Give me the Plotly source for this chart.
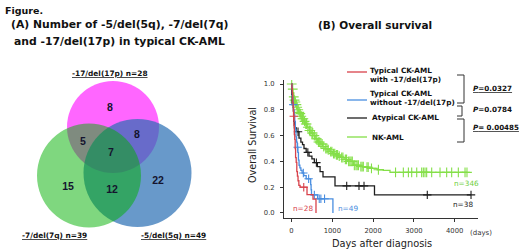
import numpy as np
import plotly.graph_objects as go

# ---------------- data ----------------
# Venn (A)
venn_set_names = ["-17/del(17p)", "-7/del(7q)", "-5/del(5q)"]
venn_set_n = [28, 39, 49]
venn_region_keys = ["p17_only", "p17_q7", "p17_q5", "all3", "q7_only", "q7_q5", "q5_only"]
venn_region_counts = [8, 5, 8, 7, 15, 12, 22]

# Kaplan-Meier (B): event times (days) and survival after each step
red_t = [0, 10, 20, 30, 40, 50, 60, 70, 80, 90, 100, 115, 130, 145, 160, 180, 210, 380, 527, 600]
red_s = [1.0, 0.964, 0.929, 0.857, 0.821, 0.75, 0.679, 0.607, 0.571, 0.5, 0.429, 0.393, 0.321, 0.286, 0.25, 0.214, 0.2, 0.143, 0.107, 0.0]
red_cens = [55, 300]

blue_t = [0, 10, 20, 35, 50, 65, 80, 95, 110, 125, 140, 155, 170, 185, 205, 230, 260, 300, 360, 470, 480, 490, 640, 1015]
blue_s = [1.0, 0.96, 0.90, 0.84, 0.80, 0.76, 0.71, 0.65, 0.59, 0.55, 0.51, 0.47, 0.41, 0.37, 0.35, 0.33, 0.31, 0.29, 0.265, 0.22, 0.18, 0.14, 0.11, 0.0]
blue_cens = [45, 150, 290, 420, 560, 680, 720, 810]

black_t = [0, 5, 15, 45, 55, 70, 120, 184, 230, 270, 306, 360, 429, 500, 560, 633, 700, 772, 1066, 2034, 4400]
black_s = [1.0, 0.92, 0.84, 0.79, 0.71, 0.66, 0.63, 0.58, 0.55, 0.53, 0.50, 0.47, 0.44, 0.42, 0.39, 0.36, 0.32, 0.28, 0.21, 0.14, 0.14]
black_cens = [160, 400, 610, 1353, 1654, 1777, 3328, 4400]

green_t = [0, 10, 20, 35, 50, 61, 80, 100, 125, 150, 175, 200, 225, 260, 300, 340, 380, 429, 480, 530, 580,
           633, 700, 760, 820, 878, 940, 1010, 1080, 1150, 1205, 1290, 1380, 1515, 1650, 1800, 1924, 2100,
           2250, 2414, 4301]
green_s = [1.0, 0.98, 0.96, 0.93, 0.90, 0.875, 0.86, 0.84, 0.82, 0.80, 0.78, 0.77, 0.75, 0.73, 0.71, 0.69,
           0.665, 0.64, 0.62, 0.60, 0.575, 0.55, 0.535, 0.515, 0.50, 0.49, 0.475, 0.46, 0.45, 0.44, 0.43,
           0.415, 0.40, 0.37, 0.36, 0.355, 0.346, 0.335, 0.33, 0.315, 0.315]
green_cens = [5, 30, 55, 75, 95, 120, 140, 165, 190, 215, 240, 270, 290, 320, 350, 370, 400, 440, 460, 500,
              520, 560, 600, 620, 660, 690, 720, 750, 790, 840, 870, 900, 960, 990, 1030, 1060, 1100, 1130,
              1170, 1230, 1260, 1320, 1350, 1400, 1430, 1460, 1490, 1540, 1580, 1610, 1640, 1700, 1730, 1760,
              1850, 1880, 1960, 2130, 2550, 2741, 2865, 2946, 3069, 3190, 3231, 3272, 3313, 3436, 3640, 3803,
              3926, 4089, 4253, 4301]

group_names = ["Typical CK-AML with -17/del(17p)", "Typical CK-AML without -17/del(17p)",
               "Atypical CK-AML", "NK-AML"]
group_n = [28, 49, 38, 346]
p_values = ["0.0327", "0.0784", " 0.00485"]

x_ticks = [0, 1000, 2000, 3000, 4000]
y_ticks = [0.0, 0.2, 0.4, 0.6, 0.8, 1.0]

# ---------------- style / layout ----------------
W, H = 520, 250
FONT = "DejaVu Sans, Verdana, sans-serif"
ARIAL = "Liberation Sans, Arial, sans-serif"
C_RED, C_BLUE, C_BLACK, C_GREEN = "#d8424b", "#4a8ee0", "#1e1e1e", "#84df48"


def px(x):
    return x / W


def py(y):
    return 1 - y / H


fig = go.Figure()


def step_value(t_arr, s_arr, t):
    i = np.searchsorted(np.asarray(t_arr), t, side="right") - 1
    return s_arr[max(i, 0)]


groups = [
    (green_t, green_s, green_cens, C_GREEN, 7),
    (black_t, black_s, black_cens, C_BLACK, 6),
    (blue_t, blue_s, blue_cens, C_BLUE, 6),
    (red_t, red_s, red_cens, C_RED, 6),
]
for t, s, c, col, msize in groups:
    fig.add_trace(go.Scatter(x=t, y=s, mode="lines", line=dict(color=col, width=1.3, shape="hv"),
                             showlegend=False, hoverinfo="skip", xaxis="x", yaxis="y"))
    cy = [step_value(t, s, ci) for ci in c]
    fig.add_trace(go.Scatter(x=c, y=cy, mode="markers",
                             marker=dict(symbol="cross-thin", size=msize, line=dict(color=col, width=1.1)),
                             showlegend=False, hoverinfo="skip", xaxis="x", yaxis="y"))

# Venn number positions (pixel space of x2/y2)
region_pos = {
    "p17_only": (110, 108), "p17_q7": (83, 142), "p17_q5": (137, 135), "all3": (111, 153),
    "q7_only": (68, 187), "q7_q5": (112, 190), "q5_only": (158, 181),
}
fig.add_trace(go.Scatter(
    x=[region_pos[k][0] for k in venn_region_keys],
    y=[region_pos[k][1] for k in venn_region_keys],
    text=[str(v) for v in venn_region_counts], mode="text",
    textfont=dict(family=ARIAL, size=10.5, color="#14142e", weight="bold"),
    showlegend=False, hoverinfo="skip", xaxis="x2", yaxis="y2"))

shapes = []
# circles: (cx, cy, r, fill)  drawn magenta, blue, green
circles = [
    (113, 127, 46, "rgba(255,0,255,0.6)"),
    (137.5, 173, 54, "rgba(40,110,180,0.7)"),
    (89, 175.5, 52, "rgba(0,176,0,0.5)"),
]
for cx, cy, r, fc in circles:
    shapes.append(dict(type="circle", xref="x2", yref="y2", x0=cx - r, x1=cx + r, y0=cy - r, y1=cy + r,
                       fillcolor=fc, line=dict(width=0), layer="below"))

# legend lines
leg_cols = [C_RED, C_BLUE, C_BLACK, C_GREEN]
leg_y = [72, 100, 118, 137]
for col, yy in zip(leg_cols, leg_y):
    shapes.append(dict(type="line", xref="paper", yref="paper", x0=px(347), x1=px(367), y0=py(yy), y1=py(yy),
                       line=dict(color=col, width=1.3)))

# brackets
for (yt, yb, xl, xr) in [(75, 103, 457, 464), (106, 116, 457, 462), (119, 142, 457, 464)]:
    path = f"M {px(xl)},{py(yt)} L {px(xr)},{py(yt)} L {px(xr)},{py(yb)} L {px(xl)},{py(yb)}"
    shapes.append(dict(type="path", xref="paper", yref="paper", path=path,
                       line=dict(color="#333333", width=1)))

ann = []


def A(text, x, y, size, bold=False, color="#111111", xanchor="center", family=FONT, angle=0):
    t = f"<b>{text}</b>" if bold else text
    ann.append(dict(text=t, x=px(x), y=py(y), xref="paper", yref="paper", showarrow=False,
                    xanchor=xanchor, yanchor="middle", font=dict(family=family, size=size, color=color),
                    textangle=angle))


A("Figure.", 3, 10, 9.5, bold=True, xanchor="left")
A("(A) Number of -5/del(5q), -7/del(7q)", 119, 25, 10.8, bold=True)
A("and -17/del(17p) in typical CK-AML", 119, 41, 10.8, bold=True)
A("(B) Overall survival", 375, 25, 10.5, bold=True)

# Venn set labels
set_label_pos = [(110, 73), (54, 235), (173, 235)]
for name, n, (x, y) in zip(venn_set_names, venn_set_n, set_label_pos):
    A(f"<u>{name} n={n}</u>", x, y, 7.4, bold=True)

# KM legend labels
A("Typical CK-AML", 368, 70, 7.3, bold=True, xanchor="left")
A("with -17/del(17p)", 368, 79.5, 7.3, bold=True, xanchor="left")
A("Typical CK-AML", 368, 93.5, 7.3, bold=True, xanchor="left")
A("without -17/del(17p)", 368, 103, 7.3, bold=True, xanchor="left")
A(group_names[2], 370, 117, 7.3, bold=True, xanchor="left")
A(group_names[3], 370, 137, 7.3, bold=True, xanchor="left")

A(f"<u><i>P</i>={p_values[0]}</u>", 471, 88, 7.2, bold=True, xanchor="left")
A(f"<i>P</i>={p_values[1]}", 471, 110, 7.2, bold=True, xanchor="left")
A(f"<u><i>P</i>={p_values[2]}</u>", 471, 127, 7.1, bold=True, xanchor="left")

# n labels
n_pos = [(303, 208, C_RED), (348, 208, C_BLUE), (463, 204, "#222222"), (466, 183, "#6fcf3f")]
for n, (x, y, col) in zip(group_n, n_pos):
    A(f"n={n}", x, y, 7.3, color=col)

A("Overall Survival", 252, 145, 9.6, color="#222222", angle=-90)
A("Days after diagnosis", 382, 243, 9.8, color="#222222")
A("(days)", 481, 233, 7, color="#333333")

fig.update_layout(
    width=W, height=H, margin=dict(l=0, r=0, t=0, b=0),
    paper_bgcolor="white", plot_bgcolor="rgba(0,0,0,0)",
    showlegend=False, shapes=shapes, annotations=ann,
    xaxis=dict(domain=[px(284), px(478)], range=[-184, 4571], showgrid=False, zeroline=False,
               showline=True, linecolor="#333333", linewidth=1, ticks="outside", ticklen=3,
               tickcolor="#333333", tickvals=x_ticks, ticktext=[str(v) for v in x_ticks],
               ticklabelstandoff=3,
               tickfont=dict(family=FONT, size=6.8, color="#333333"), anchor="y", fixedrange=True),
    yaxis=dict(domain=[py(218), py(80)], range=[-0.039, 1.031], showgrid=False, zeroline=False,
               showline=True, linecolor="#333333", linewidth=1, ticks="outside", ticklen=3,
               tickcolor="#333333", tickvals=y_ticks, ticktext=[f"{v:.1f}" for v in y_ticks],
               ticklabelstandoff=4,
               tickfont=dict(family=FONT, size=6.8, color="#333333"), anchor="x", fixedrange=True),
    xaxis2=dict(domain=[0, 250 / W], range=[0, 250], visible=False, anchor="y2", fixedrange=True),
    yaxis2=dict(domain=[0, 1], range=[250, 0], visible=False, anchor="x2", fixedrange=True),
)

fig.write_html("out.html", config={"displayModeBar": False},
               post_script="document.body.style.margin='0px';document.body.style.padding='0px';")
